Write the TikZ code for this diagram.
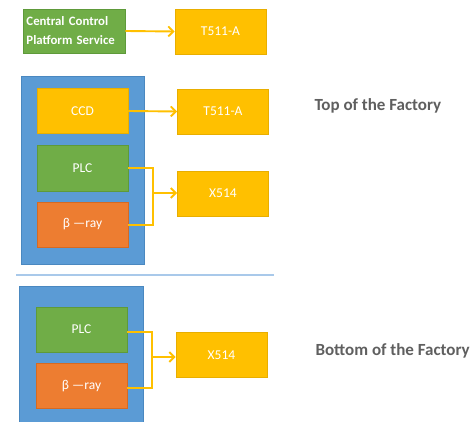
\documentclass[tikz,border=0pt]{standalone}
\usepackage{fontspec}
\setmainfont{Carlito}
\usetikzlibrary{arrows.meta}
\definecolor{cgreen}{HTML}{70AD47}
\definecolor{cgreenb}{HTML}{5E9A3A}
\definecolor{cblue}{HTML}{5B9BD5}
\definecolor{cblueb}{HTML}{4A88C0}
\definecolor{corange}{HTML}{ED7D31}
\definecolor{corangeb}{HTML}{D66A22}
\definecolor{cgold}{HTML}{FFC000}
\definecolor{cgoldb}{HTML}{E8AE00}
\definecolor{csep}{HTML}{A9C9EA}
\definecolor{ctitle}{HTML}{5F5F5F}
\tikzset{
  box/.style={draw, line width=0.8pt, minimum width=91pt, minimum height=45pt,
    inner sep=0pt, text=white, font=\fontsize{13.5}{15}\selectfont},
  greenbox/.style={box, fill=cgreen, draw=cgreenb},
  orangebox/.style={box, fill=corange, draw=corangeb},
  goldbox/.style={box, fill=cgold, draw=cgoldb},
  frame/.style={fill=cblue, draw=cblueb, line width=0.8pt},
  link/.style={draw=cgold, line width=1.9pt},
  arrowlink/.style={link, -{Straight Barb[length=5pt,width=10pt,line width=1.9pt]}},
  title/.style={text=ctitle, font=\bfseries\fontsize{17}{19}\selectfont, anchor=west}
}
\begin{document}
\begin{tikzpicture}[x=1pt,y=-1pt]
\useasboundingbox (0,0) rectangle (472,422);

% platform service and its terminal
\node[greenbox, minimum width=102pt, minimum height=44pt, align=left,
      font=\bfseries\fontsize{12.8}{19}\selectfont, text width=95pt]
      (cps) at (74,31) {Central Control\\Platform Service};
\node[goldbox] (t1) at (220.5,31.5) {T511-A};
\draw[arrowlink] (cps.east) -- (t1.west);

% upper station
\node[frame, minimum width=123pt, minimum height=188pt, inner sep=0pt] (f1) at (82.5,170) {};
\node[goldbox] (ccd) at (82.5,111) {CCD};
\node[goldbox] (t2) at (223,111.5) {T511-A};
\draw[arrowlink] (ccd.east) -- (t2.west);
\node[greenbox, minimum height=46pt] (plc1) at (82.5,168.5) {PLC};
\node[orangebox] (ray1) at (82.5,224.5) {β —ray};
\node[goldbox] (x1) at (223,193.5) {X514};
\coordinate (j1) at (153,193);
\draw[link] (plc1.east |- 0,168) -| (j1) |- (ray1.east |- 0,225);
\draw[arrowlink] (j1) -- (x1.west |- j1);
\node[title] (top) at (311,106) {Top of the Factory};

% divider between the two levels
\draw[csep, line width=1.6pt] (16,275) -- (274,275);

% lower station
\node[frame, minimum width=124pt, minimum height=150pt, inner sep=0pt] (f2) at (81,361) {};
\node[greenbox] (plc2) at (81.5,329.5) {PLC};
\node[orangebox] (ray2) at (81.5,386) {β —ray};
\node[goldbox] (x2) at (221.5,355) {X514};
\coordinate (j2) at (152,357);
\draw[link] (plc2.east |- 0,332) -| (j2) |- (ray2.east |- 0,388);
\draw[arrowlink] (j2) -- (x2.west |- j2);
\node[title] (bottom) at (312,351) {Bottom of the Factory};
\end{tikzpicture}
\end{document}
